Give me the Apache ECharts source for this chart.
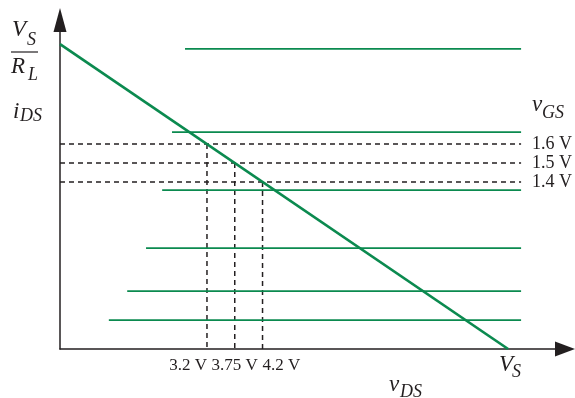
<!DOCTYPE html>
<html>
<head>
<meta charset="utf-8">
<script src="https://cdn.jsdelivr.net/npm/echarts@6/dist/echarts.min.js"></script>
<style>html,body{margin:0;padding:0;background:#fff}#c{width:575px;height:398px}</style>
</head>
<body>
<div id="c"></div>
<script>
// ---- data (schematic units: V_S = 10 on x, V_S/R_L = 10 on y) ----
const vS = 10;                 // load-line x intercept (V_S)
const iMax = 10;               // load-line y intercept (V_S/R_L)
const curveLevels = [9.84, 7.11, 5.21, 3.31, 1.90, 0.95];   // green characteristic lines (i_DS)
const curveStarts = [2.79, 2.50, 2.28, 1.92, 1.50, 1.09];   // where each green line begins (v_DS)
const curveEnd = 10.29;
const opLevels = [6.72, 6.10, 5.48];                        // operating-point currents
const opLabels = ['1.6 V', '1.5 V', '1.4 V'];               // v_GS labels
const vdsLabels = ['3.2 V', '3.75 V', '4.2 V'];             // v_DS labels
const xMax = 11.27, yMax = 10.79;

// intersections of the load line with the operating currents
const qX = opLevels.map(l => vS * (1 - l / iMax));

const INK = '#231f20';
const GREEN = '#0b8a4f';
const SERIF = '"Liberation Serif", "Times New Roman", serif';

const series = [];
opLevels.forEach((l, k) => {
  series.push({
    type: 'line', data: [[0, l], [curveEnd, l]], symbol: 'none', silent: true,
    lineStyle: { color: INK, width: 1.5, type: [5, 4] },
    endLabel: { show: true, formatter: opLabels[k], distance: 11, color: INK,
                fontFamily: SERIF, fontSize: 18 }
  });
  series.push({
    type: 'line', data: [[qX[k], l], [qX[k], 0]], symbol: 'none', silent: true,
    lineStyle: { color: INK, width: 1.5, type: [5, 4] }
  });
});
curveLevels.forEach((l, k) => {
  series.push({
    type: 'line', data: [[curveStarts[k], l], [curveEnd, l]], symbol: 'none', silent: true,
    lineStyle: { color: GREEN, width: 1.8 }
  });
});
series.push({
  type: 'line', data: [[0, iMax], [vS, 0]], symbol: 'none', silent: true,
  lineStyle: { color: GREEN, width: 2.7 }
});

function txt(x, y, s, size, italic) {
  return { type: 'text', x: x, y: y, silent: true,
    style: { text: s, fill: INK, fontFamily: SERIF, fontSize: size,
             fontStyle: italic ? 'italic' : 'normal', verticalAlign: 'middle', align: 'left' } };
}

const chart = echarts.init(document.getElementById('c'), null, { renderer: 'canvas' });
chart.setOption({
  animation: false,
  backgroundColor: '#fff',
  grid: { left: 60, right: 10, top: 20, bottom: 49, containLabel: false },
  xAxis: {
    type: 'value', min: 0, max: xMax,
    splitLine: { show: false }, axisTick: { show: false },
    axisLine: { show: true, onZero: false, symbol: ['none', 'triangle'], symbolSize: [15, 20],
                lineStyle: { color: INK, width: 1.5 } },
    axisLabel: {
      show: true, customValues: qX, margin: 8, hideOverlap: false,
      alignMinLabel: 'right', alignMaxLabel: 'left',
      fontFamily: SERIF, fontSize: 17, color: INK,
      formatter: function (v) {
        const i = qX.findIndex(q => Math.abs(q - v) < 1e-6);
        return i < 0 ? '' : vdsLabels[i];
      }
    }
  },
  yAxis: {
    type: 'value', min: 0, max: yMax,
    splitLine: { show: false }, axisTick: { show: false }, axisLabel: { show: false },
    axisLine: { show: true, onZero: false, symbol: ['none', 'triangle'], symbolSize: [13, 24],
                lineStyle: { color: INK, width: 1.5 } }
  },
  graphic: [
    txt(12, 30, 'V', 23, true), txt(27, 40, 'S', 18, true),
    { type: 'line', silent: true, shape: { x1: 11, y1: 52, x2: 38, y2: 52 }, style: { stroke: INK, lineWidth: 1.2 } },
    txt(11, 66.5, 'R', 23, true), txt(28, 75, 'L', 18, true),
    txt(13, 111.5, 'i', 23, true), txt(20, 116, 'DS', 18, true),
    txt(532, 105, 'v', 23, true), txt(542, 113, 'GS', 18, true),
    txt(499, 365, 'V', 23, true), txt(512, 372, 'S', 18, true),
    txt(389, 384.5, 'v', 23, true), txt(400, 392, 'DS', 18, true)
  ],
  series: series
});
</script>
</body>
</html>
